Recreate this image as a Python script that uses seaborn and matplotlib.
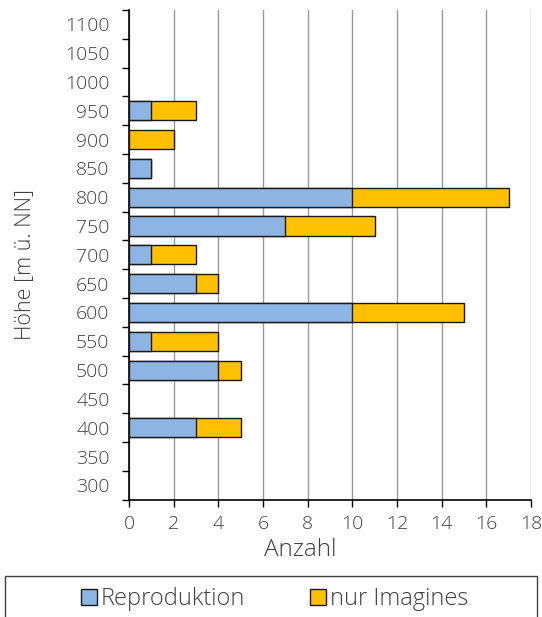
import matplotlib
matplotlib.use("Agg")
import matplotlib.pyplot as plt
from matplotlib.patches import Patch
from matplotlib.ticker import FixedLocator
import numpy as np
import pandas as pd
import seaborn as sns

# Höhenstufen (m ü. NN) und Anzahl der Nachweise
hoehen = [1100, 1050, 1000, 950, 900, 850, 800, 750, 700, 650, 600, 550, 500, 450, 400, 350, 300]
reproduktion = [0, 0, 0, 1, 0, 1, 10, 7, 1, 3, 10, 1, 4, 0, 3, 0, 0]
nur_imagines = [0, 0, 0, 2, 2, 0, 7, 4, 2, 1, 5, 3, 1, 0, 2, 0, 0]
x_ticks = list(range(0, 19, 2))

BLUE = "#8DB4E2"
YELLOW = "#FFC000"
TEXT = "#404040"

sns.set_style("white")
plt.rcParams["font.family"] = ["Open Sans", "DejaVu Sans"]
plt.rcParams["font.weight"] = "light"
plt.rcParams["axes.labelweight"] = "light"

df = pd.DataFrame({
    "hoehe": [str(h) for h in hoehen],
    "rep": reproduktion,
    "gesamt": [r + i for r, i in zip(reproduktion, nur_imagines)],
})
order = df["hoehe"].tolist()

fig = plt.figure(figsize=(5.42, 6.17), dpi=100)
ax = fig.add_axes([0.238, 0.19, 0.742, 0.794])

# Gesamtbalken (gelb), darüber der Anteil mit Reproduktion (blau)
sns.barplot(data=df, x="gesamt", y="hoehe", order=order, orient="h",
            color=YELLOW, saturation=1, width=0.66, edgecolor="#1a1a1a",
            linewidth=1.0, ax=ax, zorder=3)
sns.barplot(data=df, x="rep", y="hoehe", order=order, orient="h",
            color=BLUE, saturation=1, width=0.66, edgecolor="#1a1a1a",
            linewidth=1.0, ax=ax, zorder=4)
for p in ax.patches:
    if p.get_width() == 0:
        p.set_visible(False)

ax.set_xlim(0, 18)
ax.set_ylim(len(order) - 0.5, -0.5)
ax.set_xticks(x_ticks)
ax.xaxis.grid(True, color="#9a9a9a", linewidth=1.0, zorder=0)
ax.yaxis.grid(False)
ax.set_axisbelow(True)

ax.yaxis.set_minor_locator(FixedLocator(np.arange(-0.5, len(order), 1.0)))
ax.tick_params(axis="y", which="major", length=0, pad=14, labelsize=14, labelcolor=TEXT)
ax.tick_params(axis="y", which="minor", length=5, width=1, color="black", direction="out", left=True)
ax.tick_params(axis="x", which="major", length=5, width=1, color="black", direction="out",
               bottom=True, pad=6, labelsize=14, labelcolor=TEXT)

for side in ["top", "right"]:
    ax.spines[side].set_visible(False)
for side in ["left", "bottom"]:
    ax.spines[side].set_color("black")
    ax.spines[side].set_linewidth(1.2)

ax.set_xlabel("Anzahl", fontsize=17.5, color=TEXT)
ax.set_ylabel("Höhe [m ü. NN]", fontsize=15.5, color=TEXT)
ax.xaxis.set_label_coords(0.425, -0.078)
ax.yaxis.set_label_coords(-0.233, 0.48)

handles = [Patch(facecolor=BLUE, edgecolor="#1a1a1a", linewidth=1.0, label="Reproduktion"),
           Patch(facecolor=YELLOW, edgecolor="#1a1a1a", linewidth=1.0, label="nur Imagines")]
leg = fig.legend(handles=handles, loc="center", bbox_to_anchor=(0.507, 0.029), ncol=2,
                 fontsize=17, frameon=False, handlelength=0.65, handleheight=0.65,
                 handletextpad=0.18, columnspacing=2.75)
for t in leg.get_texts():
    t.set_color(TEXT)

# Rahmen um die Legende
fig.patches.append(plt.Rectangle((5 / 542, -0.01), 532 / 542, 0.077, transform=fig.transFigure,
                                 fill=False, edgecolor="#404040", linewidth=1.0))

fig.savefig("out.png", dpi=100)
